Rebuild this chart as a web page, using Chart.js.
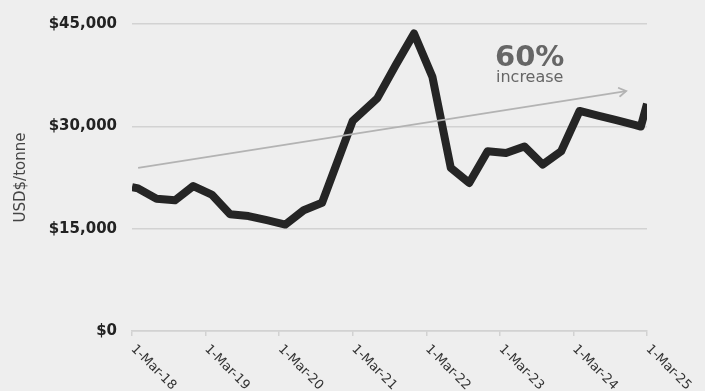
<!DOCTYPE html>
<html>
<head>
<meta charset="utf-8">
<script src="https://cdn.jsdelivr.net/npm/chart.js@4/dist/chart.umd.min.js"></script>
<style>
  html, body { margin: 0; padding: 0; background: #eeeeee; }
  #wrap { width: 705px; height: 391px; }
</style>
</head>
<body>
<div id="wrap"><canvas id="priceChart" width="705" height="391"></canvas></div>
<script>
// ============================================================
// DATA  (months since 1-Mar-18, USD$/tonne)
// ============================================================

const months = [0, 1, 4, 7, 10, 13, 16, 19, 22, 25, 28, 31, 36, 40, 43, 46, 49, 52, 55, 58, 61, 64, 67, 70, 73, 76, 79, 82, 83, 84];
const prices = [21100, 20900, 19400, 19150, 21250, 20000, 17100, 16850, 16250, 15600, 17700, 18800, 30800, 34100, 38950, 43600, 37250, 23900, 21700, 26350, 26100, 27050, 24400, 26350, 32250, 31570, 30900, 30220, 29970, 33300];

const trendMonths = [1, 80.6];
const trendValues = [23900, 35170];

const tickLabels = ["1-Mar-18", "1-Mar-19", "1-Mar-20", "1-Mar-21", "1-Mar-22", "1-Mar-23", "1-Mar-24", "1-Mar-25"];
const yTicks = [0, 15000, 30000, 45000];

const FONT = "'DejaVu Sans', sans-serif";

// ============================================================
// PLUGINS
// ============================================================

// x labels rotated clockwise (Chart.js only rotates the other way)
const slantedLabels = {
  id: "slantedLabels",
  afterDraw(chart) {
    const ctx = chart.ctx;
    const xScale = chart.scales.x;
    ctx.save();
    ctx.font = "13px " + FONT;
    ctx.fillStyle = "#333333";
    ctx.textAlign = "left";
    ctx.textBaseline = "middle";
    xScale.ticks.forEach(function(tick, i) {
      const px = xScale.getPixelForValue(tick.value);
      ctx.save();
      ctx.translate(px + 1, chart.chartArea.bottom + 16);
      ctx.rotate(Math.PI / 4);
      ctx.fillText(tickLabels[i] ?? "", 0, 0);
      ctx.restore();
    });
    ctx.restore();
  }
};

// arrow head on the trend line + the "60% increase" note
const trendArrow = {
  id: "trendArrow",
  afterDatasetsDraw(chart) {
    const ctx = chart.ctx;
    const pts = chart.getDatasetMeta(1).data;
    const a = pts[pts.length - 2];
    const b = pts[pts.length - 1];
    const ang = Math.atan2(b.y - a.y, b.x - a.x);
    const len = 8;

    ctx.save();
    ctx.strokeStyle = "#b3b3b3";
    ctx.lineWidth = 1.8;
    ctx.lineCap = "round";
    ctx.beginPath();
    ctx.moveTo(b.x - len * Math.cos(ang - 0.55), b.y - len * Math.sin(ang - 0.55));
    ctx.lineTo(b.x, b.y);
    ctx.lineTo(b.x - len * Math.cos(ang + 0.55), b.y - len * Math.sin(ang + 0.55));
    ctx.stroke();

    ctx.fillStyle = "#666666";
    ctx.textAlign = "left";
    ctx.textBaseline = "alphabetic";
    ctx.font = "bold 29px " + FONT;
    ctx.fillText("60%", 495, 66);
    ctx.font = "16px " + FONT;
    ctx.fillText("increase", 496, 82);
    ctx.restore();
  }
};

// ============================================================
// CHART
// ============================================================

const ctx = document.getElementById("priceChart").getContext("2d");

const priceChart = new Chart(ctx, {
  type: "line",
  data: {
    datasets: [
      {
        label: "Price",
        data: months.map((m, i) => ({ x: m, y: prices[i] })),
        borderColor: "#252525",
        borderWidth: 8,
        borderJoinStyle: "round",
        pointRadius: 0,
        tension: 0,
        order: 1
      },
      {
        label: "Trend",
        data: trendMonths.map((m, i) => ({ x: m, y: trendValues[i] })),
        borderColor: "#b3b3b3",
        borderWidth: 1.8,
        pointRadius: 0,
        tension: 0,
        order: 0
      }
    ]
  },
  options: {
    responsive: false,
    animation: false,
    devicePixelRatio: 1,
    layout: { padding: { top: 21, right: 58, bottom: 0, left: 0 } },
    plugins: {
      legend: { display: false },
      tooltip: { enabled: false }
    },
    scales: {
      x: {
        type: "linear",
        min: 0,
        max: 84,
        ticks: { stepSize: 12, display: false },
        grid: { drawOnChartArea: false, drawTicks: true, tickLength: 5, color: "#d2d2d2", lineWidth: 1.5 },
        border: { display: true, color: "#d2d2d2", width: 1.5 },
        afterFit(scale) { scale.height = 60; }
      },
      y: {
        min: 0,
        max: 45000,
        afterBuildTicks(scale) { scale.ticks = yTicks.map(v => ({ value: v })); },
        ticks: {
          padding: 15,
          color: "#222222",
          font: { family: FONT, size: 15, weight: "bold" },
          callback: v => "$" + v.toLocaleString("en-US")
        },
        grid: { drawTicks: false, color: "#d2d2d2", lineWidth: 1.5 },
        border: { display: false },
        title: {
          display: true,
          text: "USD$/tonne",
          color: "#444444",
          font: { family: FONT, size: 15 },
          padding: { top: 12, bottom: 0 }
        },
        afterFit(scale) { scale.width = 132; }
      }
    }
  },
  plugins: [slantedLabels, trendArrow]
});
</script>
</body>
</html>
